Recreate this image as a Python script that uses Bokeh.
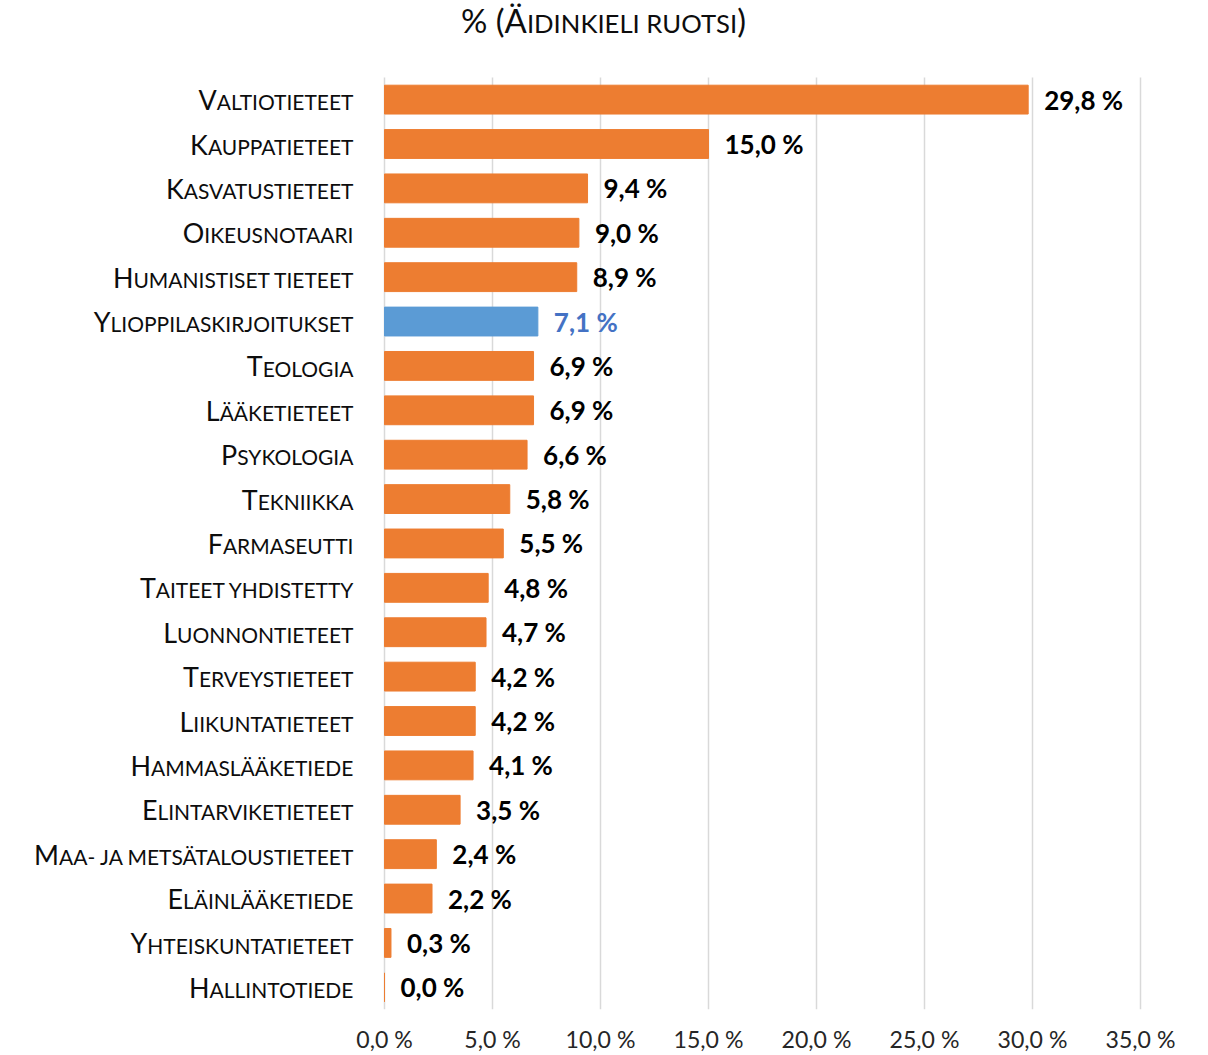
import subprocess
from PIL import ImageFont
from bokeh.plotting import figure
from bokeh.models import ColumnDataSource, Range1d, FixedTicker
from bokeh.core.properties import value
from bokeh.embed import file_html
from bokeh.resources import INLINE

# ---------------- data ----------------
categories = ["Valtiotieteet", "Kauppatieteet", "Kasvatustieteet", "Oikeusnotaari",
              "Humanistiset tieteet", "Ylioppilaskirjoitukset", "Teologia", "Lääketieteet",
              "Psykologia", "Tekniikka", "Farmaseutti", "Taiteet yhdistetty",
              "Luonnontieteet", "Terveystieteet", "Liikuntatieteet", "Hammaslääketiede",
              "Elintarviketieteet", "Maa- ja metsätaloustieteet", "Eläinlääketiede",
              "Yhteiskuntatieteet", "Hallintotiede"]
values = [29.8, 15.0, 9.4, 9.0, 8.9, 7.1, 6.9, 6.9, 6.6, 5.8, 5.5, 4.8, 4.7,
          4.2, 4.2, 4.1, 3.5, 2.4, 2.2, 0.3, 0.0]
highlight = "Ylioppilaskirjoitukset"
tick_values = [0, 5, 10, 15, 20, 25, 30, 35]
tick_labels = ["0,0 %", "5,0 %", "10,0 %", "15,0 %", "20,0 %", "25,0 %", "30,0 %", "35,0 %"]
title_text = "% (Äidinkieli ruotsi)"

# ---------------- styles / layout ----------------
ORANGE = "#ED7D31"
BLUE = "#5B9BD5"
BLUE_TEXT = "#4472C4"
GRID = "#D9D9D9"
TEXT = "#0d0d0d"
FONT = "Lato"
SC = 0.78          # small-caps scale
MID = 0.36         # distance from cap middle to baseline, per em

WIDTH, HEIGHT = 1200, 1055
BOTTOM = 45        # x-axis band
LEFT_PX = 384      # x = 0 position
RIGHT_PX = 1140    # x = 35 position
TOP_PX = 77        # top of first row band
LABEL_GAP = 31
TITLE_CX = 603
TITLE_MID = 20


def font_path(spec, fallback):
    try:
        out = subprocess.run(["fc-match", "-f", "%{file}", spec],
                             capture_output=True, text=True).stdout.strip()
        if out:
            return out
    except Exception:
        pass
    return fallback


REG = font_path("Lato:style=Regular", "/usr/share/fonts/truetype/lato/Lato-Regular.ttf")
BOLD = font_path("Lato:style=Bold", "/usr/share/fonts/truetype/lato/Lato-Bold.ttf")
_fonts = {}


def width(text, size, path=REG):
    if path not in _fonts:
        _fonts[path] = ImageFont.truetype(path, 200)
    return _fonts[path].getlength(text) * size / 200.0


def runs(text):
    out = []
    for ch in text:
        if ch.isalpha():
            small = ch.islower()
        elif ch in " -":
            small = out[-1][1] if out else False
        else:
            small = False
        if out and out[-1][1] == small:
            out[-1][0] += ch
        else:
            out.append([ch, small])
    return [(t.upper() if s else t, s) for t, s in out]


def sc_width(text, big):
    return sum(width(t, big * SC if s else big) for t, s in runs(text))


LABEL_SIZE = 155.0 / sc_width("Valtiotieteet", 1.0)
TITLE_SIZE = 285.0 / sc_width(title_text, 1.0)
VALUE_SIZE = 79.0 / width("29,8 %", 1.0, BOLD)
TICK_SIZE = 70.0 / width("35,0 %", 1.0)

n = len(categories)
rows = list(range(n - 1, -1, -1))          # top category at the top

px_per_unit = (RIGHT_PX - LEFT_PX) / float(tick_values[-1])
x_start = -LEFT_PX / px_per_unit
x_end = x_start + WIDTH / px_per_unit
frame_h = HEIGHT - BOTTOM
row_px = (frame_h - TOP_PX) / n
y_start = -0.5
y_end = y_start + frame_h / row_px

# ---------------- figure ----------------
p = figure(width=WIDTH, height=HEIGHT, output_backend="svg", toolbar_location=None,
           x_range=Range1d(x_start, x_end), y_range=Range1d(y_start, y_end),
           min_border_left=0, min_border_right=0, min_border_top=0,
           min_border_bottom=BOTTOM)
p.outline_line_color = None
p.background_fill_color = "white"
p.border_fill_color = "white"
p.xgrid.visible = False
p.ygrid.visible = False
p.yaxis.visible = False

# vertical gridlines, only over the bar area
p.segment(x0=tick_values, x1=tick_values, y0=y_start, y1=n - 0.5,
          line_color=GRID, line_width=1.5)

colors = [BLUE if c == highlight else ORANGE for c in categories]
src = ColumnDataSource(dict(y=rows, val=values, color=colors))
p.hbar(y="y", right="val", left=0, height=0.65, color="color", source=src)

p.xaxis.ticker = FixedTicker(ticks=tick_values)
p.xaxis.major_label_overrides = {v: l for v, l in zip(tick_values, tick_labels)}
p.xaxis.axis_line_color = None
p.xaxis.major_tick_line_color = None
p.xaxis.minor_tick_line_color = None
p.xaxis.major_label_text_font = FONT
p.xaxis.major_label_text_font_size = f"{TICK_SIZE:.1f}px"
p.xaxis.major_label_text_color = "#262626"
p.xaxis.major_label_standoff = 9


def sc_rows(text, big, y, x0_offset, y_mid_offset):
    """Split a label into full-size and small-cap runs sharing one baseline."""
    out = []
    cum = 0.0
    for t, s in runs(text):
        sz = big * SC if s else big
        dy = MID * big * (1 - SC) if s else 0.0
        out.append((y, x0_offset + cum, y_mid_offset + dy, f"{sz:.2f}px", t))
        cum += width(t, sz)
    return out


# category labels in small caps
items = []
for c, r in zip(categories, rows):
    items += sc_rows(c, LABEL_SIZE, r, -LABEL_GAP - sc_width(c, LABEL_SIZE), 0.0)
lab_src = ColumnDataSource(dict(x=[0] * len(items), y=[i[0] for i in items],
                                xo=[i[1] for i in items], yo=[i[2] for i in items],
                                size=[i[3] for i in items], text=[i[4] for i in items]))
p.text(x="x", y="y", text="text", x_offset="xo", y_offset="yo", source=lab_src,
       text_font=value(FONT), text_font_size="size", text_color=TEXT,
       text_align="left", text_baseline="middle")

# title in small caps
titems = sc_rows(title_text, TITLE_SIZE, y_end,
                 TITLE_CX - LEFT_PX - sc_width(title_text, TITLE_SIZE) / 2, TITLE_MID)
t_src = ColumnDataSource(dict(x=[0] * len(titems), y=[i[0] for i in titems],
                              xo=[i[1] for i in titems], yo=[i[2] for i in titems],
                              size=[i[3] for i in titems], text=[i[4] for i in titems]))
p.text(x="x", y="y", text="text", x_offset="xo", y_offset="yo", source=t_src,
       text_font=value(FONT), text_font_size="size", text_color=TEXT,
       text_align="left", text_baseline="middle")

# value labels
val_text = [f"{v:.1f} %".replace(".", ",") for v in values]
val_color = [BLUE_TEXT if c == highlight else "#000000" for c in categories]
v_src = ColumnDataSource(dict(x=values, y=rows, text=val_text, color=val_color))
p.text(x="x", y="y", text="text", x_offset=16, y_offset=0,
       source=v_src, text_font=value(FONT), text_font_style="bold",
       text_font_size=f"{VALUE_SIZE:.1f}px", text_color="color",
       text_align="left", text_baseline="middle")

open("out.html", "w").write(file_html(p, INLINE))
